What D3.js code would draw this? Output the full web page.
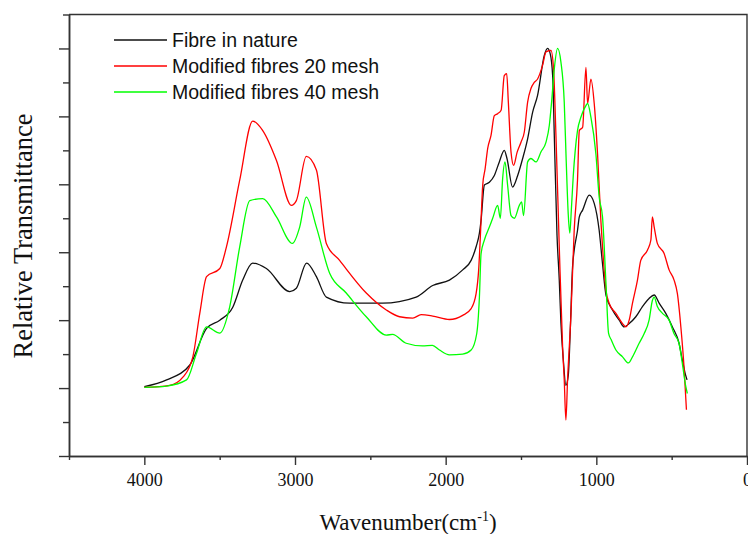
<!DOCTYPE html>
<html>
<head>
<meta charset="utf-8">
<script src="https://cdn.jsdelivr.net/npm/d3@7"></script>
<style>
  html, body { margin: 0; padding: 0; background: #fff; }
  svg { display: block; }
</style>
</head>
<body>
<div id="chart"></div>
<script>
// --- Data (wavenumber cm-1, relative transmittance in tick units) ---
const seriesNames = ["Fibre in nature", "Modified fibres 20 mesh", "Modified fibres 40 mesh"];
const seriesColors = ["#111111", "#ff0000", "#00ff00"];

const fibreNature = [[4000,1.02],[3852,1.12],[3698,1.34],[3587,1.88],[3499,2.0],[3413,2.19],[3347,2.59],[3281,2.84],[3190,2.76],[3035,2.42],[2991,2.47],[2923,2.84],[2858,2.64],[2792,2.34],[2638,2.25],[2419,2.25],[2196,2.34],[2086,2.51],[1975,2.59],[1887,2.74],[1831,2.88],[1798,3.08],[1776,3.28],[1765,3.47],[1743,3.99],[1710,4.03],[1677,4.13],[1644,4.33],[1611,4.5],[1593,4.38],[1556,3.96],[1522,4.13],[1489,4.38],[1456,4.67],[1423,5.06],[1390,5.31],[1345,5.9],[1324,6.0],[1306,5.92],[1290,5.6],[1279,4.72],[1261,3.25],[1246,2.59],[1235,1.96],[1219,1.41],[1202,1.04],[1186,1.19],[1173,1.85],[1158,2.78],[1147,3.03],[1125,3.32],[1113,3.52],[1091,3.62],[1047,3.84],[1014,3.72],[981,3.32],[959,2.83],[936,2.37],[893,2.15],[848,2.0],[815,1.9],[782,1.95],[738,2.05],[694,2.2],[650,2.32],[616,2.37],[583,2.25],[539,2.1],[495,1.9],[451,1.66],[429,1.41],[411,1.22],[398,1.12]];

const mesh20 = [[4000,1.01],[3831,1.04],[3744,1.16],[3678,1.46],[3632,2.10],[3587,2.64],[3499,2.76],[3455,3.08],[3367,4.06],[3281,4.93],[3214,4.79],[3123,4.35],[3024,3.69],[2991,3.76],[2925,4.41],[2858,4.21],[2792,3.13],[2704,2.88],[2527,2.40],[2394,2.15],[2306,2.05],[2218,2.03],[2163,2.08],[2086,2.06],[1975,2.01],[1887,2.07],[1831,2.17],[1798,2.39],[1781,2.74],[1770,3.22],[1754,3.99],[1738,4.23],[1721,4.53],[1699,4.72],[1677,5.01],[1655,5.04],[1632,5.09],[1611,5.60],[1595,5.63],[1584,5.21],[1566,4.47],[1549,4.28],[1526,4.47],[1500,4.62],[1478,4.77],[1456,5.21],[1434,5.41],[1412,5.5],[1390,5.55],[1357,5.75],[1334,5.95],[1301,5.97],[1284,5.70],[1268,4.72],[1246,3.08],[1224,1.61],[1213,1.12],[1202,0.53],[1191,1.12],[1168,2.10],[1147,3.32],[1125,4.06],[1113,4.79],[1091,4.84],[1069,5.72],[1058,5.19],[1036,5.55],[1014,5.19],[992,4.45],[970,3.47],[959,3.08],[936,2.44],[915,2.25],[870,2.10],[826,1.95],[804,1.90],[782,2.0],[760,2.25],[727,2.59],[705,2.88],[661,3.03],[638,3.18],[628,3.52],[616,3.37],[595,3.13],[550,2.98],[517,2.74],[484,2.59],[462,2.39],[439,1.90],[418,1.31],[402,0.68]];

const mesh40 = [[4000,1.01],[3852,1.03],[3720,1.12],[3654,1.51],[3587,1.90],[3499,1.81],[3433,2.20],[3367,3.08],[3300,3.76],[3214,3.79],[3123,3.52],[3017,3.13],[2969,3.37],[2925,3.81],[2858,3.37],[2770,2.69],[2660,2.40],[2527,2.05],[2394,1.78],[2353,1.79],[2262,1.66],[2154,1.62],[2088,1.63],[2041,1.56],[1975,1.49],[1887,1.50],[1831,1.56],[1794,1.80],[1776,2.34],[1765,2.98],[1743,3.18],[1710,3.37],[1688,3.50],[1655,3.69],[1637,3.50],[1622,4.08],[1606,4.33],[1589,3.99],[1566,3.54],[1544,3.50],[1511,3.69],[1496,3.74],[1483,3.54],[1456,4.33],[1434,4.38],[1400,4.33],[1367,4.48],[1334,4.62],[1312,4.87],[1297,5.21],[1279,5.70],[1257,6.0],[1235,5.80],[1213,5.21],[1200,4.35],[1186,3.54],[1176,3.28],[1166,3.62],[1153,4.13],[1140,4.50],[1125,4.79],[1102,4.99],[1069,5.16],[1058,5.19],[1036,4.99],[1003,4.45],[981,3.81],[959,3.52],[936,2.54],[919,1.81],[901,1.71],[870,1.56],[826,1.46],[787,1.37],[760,1.46],[716,1.66],[683,1.80],[650,2.0],[628,2.29],[616,2.34],[595,2.20],[561,2.10],[517,2.0],[484,1.80],[451,1.66],[429,1.36],[406,1.02],[396,0.92]];

const xMajorTicks = [4000, 3000, 2000, 1000, 0];
const xMinorTicks = [4500, 3500, 2500, 1500, 500];
const yMajorTicks = [0, 1, 2, 3, 4, 5, 6];
const yMinorTicks = [0.5, 1.5, 2.5, 3.5, 4.5, 5.5, 6.5];

// --- Layout ---
const W = 748, H = 534;
const plot = { left: 69, right: 747, top: 14.5, bottom: 456 };
const axisColor = "#333";

const svg = d3.select("#chart").append("svg")
    .attr("width", W).attr("height", H);

const x = d3.scaleLinear().domain([4500, 0]).range([plot.left, plot.right]);
const y = d3.scaleLinear().domain([0, 6.5]).range([plot.bottom, plot.top]);

// frame (top + right)
svg.append("path")
    .attr("d", `M${plot.left},${plot.top}H${plot.right}V${plot.bottom}`)
    .attr("fill", "none").attr("stroke", axisColor).attr("stroke-width", 1.4);

function styleAxis(g) {
    g.select(".domain").attr("stroke", axisColor).attr("stroke-width", 1.5);
    g.selectAll(".tick line").attr("stroke", axisColor).attr("stroke-width", 1.4);
}

// x axis
svg.append("g")
    .attr("transform", `translate(0,${plot.bottom})`)
    .call(d3.axisBottom(x).tickValues(xMinorTicks).tickSize(4).tickSizeOuter(0).tickFormat(""))
    .call(styleAxis);
const xAxisG = svg.append("g")
    .attr("transform", `translate(0,${plot.bottom})`)
    .call(d3.axisBottom(x).tickValues(xMajorTicks).tickSize(9).tickSizeOuter(0)
        .tickPadding(8).tickFormat(d3.format("d")))
    .call(styleAxis);
xAxisG.selectAll(".tick text")
    .attr("font-family", "'Liberation Serif', 'Times New Roman', serif")
    .attr("font-size", 18).attr("fill", "#111");

// y axis (no labels)
svg.append("g")
    .attr("transform", `translate(${plot.left},0)`)
    .call(d3.axisLeft(y).tickValues(yMinorTicks).tickSize(6).tickSizeOuter(0).tickFormat(""))
    .call(styleAxis);
svg.append("g")
    .attr("transform", `translate(${plot.left},0)`)
    .call(d3.axisLeft(y).tickValues(yMajorTicks).tickSize(10).tickSizeOuter(0).tickFormat(""))
    .call(styleAxis);

// axis titles
const xTitle = svg.append("text")
    .attr("x", 408).attr("y", 530)
    .attr("text-anchor", "middle")
    .attr("font-family", "'Liberation Serif', 'Times New Roman', serif")
    .attr("font-size", 23).attr("fill", "#111");
xTitle.append("tspan").text("Wavenumber(cm");
xTitle.append("tspan").attr("font-size", 14).attr("dy", -9).text("-1");
xTitle.append("tspan").attr("dy", 9).text(")");

svg.append("text")
    .attr("transform", "translate(32,236) rotate(-90)")
    .attr("text-anchor", "middle")
    .attr("font-family", "'Liberation Serif', 'Times New Roman', serif")
    .attr("font-size", 26.5).attr("fill", "#111")
    .text("Relative Transmittance");

// curves
const line = d3.line()
    .x(d => x(d[0]))
    .y(d => y(d[1]))
    .curve(d3.curveMonotoneX);

[fibreNature, mesh20, mesh40].forEach((data, i) => {
    const sorted = data.slice().sort((a, b) => b[0] - a[0]);
    svg.append("path")
        .datum(sorted)
        .attr("d", line)
        .attr("fill", "none")
        .attr("stroke", seriesColors[i])
        .attr("stroke-width", 1.3)
        .attr("stroke-linejoin", "round");
});

// legend
const legend = svg.append("g");
seriesNames.forEach((name, i) => {
    const ly = 40 + i * 26;
    legend.append("line")
        .attr("x1", 114).attr("x2", 167)
        .attr("y1", ly).attr("y2", ly)
        .attr("stroke", seriesColors[i]).attr("stroke-width", 1.3);
    legend.append("text")
        .attr("x", 172).attr("y", ly + 6.5)
        .attr("font-family", "'Liberation Sans', Arial, sans-serif")
        .attr("font-size", 19.5).attr("fill", "#111")
        .text(name);
});
</script>
</body>
</html>
